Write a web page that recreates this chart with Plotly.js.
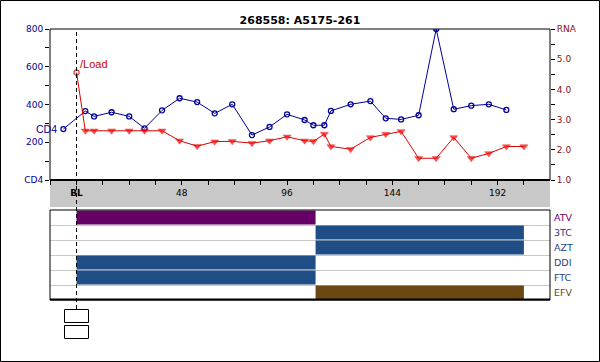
<!DOCTYPE html>
<html>
<head>
<meta charset="utf-8">
<script src="https://cdn.plot.ly/plotly-3.0.1.min.js"></script>
<style>html,body{margin:0;padding:0;background:#fff;}#chart{width:600px;height:362px;}</style>
</head>
<body>
<div id="chart"></div>
<script>
// ---- data ----
const chartTitle = "268558: A5175-261";
const cd4Weeks = [-6, 4, 8, 16, 24, 31, 39, 47, 55, 63, 71, 80, 88, 96, 104, 108, 113, 116, 125, 134, 141, 148, 156, 164, 172, 180, 188, 196];
const cd4Values = [270, 365, 337, 359, 337, 274, 369, 433, 413, 353, 401, 238, 281, 348, 318, 290, 290, 366, 401, 418, 327, 321, 343, 800, 375, 394, 401, 371];
const rnaWeeks = [0, 4, 8, 16, 24, 31, 39, 47, 55, 63, 71, 80, 88, 96, 104, 108, 113, 116, 125, 134, 141, 148, 156, 164, 172, 180, 188, 196, 204];
const rnaValues = [4.56, 2.63, 2.63, 2.63, 2.63, 2.63, 2.63, 2.30, 2.12, 2.27, 2.28, 2.22, 2.30, 2.43, 2.30, 2.28, 2.52, 2.11, 2.02, 2.41, 2.52, 2.61, 1.72, 1.72, 2.41, 1.72, 1.88, 2.11, 2.11];
const drugs = ["ATV", "3TC", "AZT", "DDI", "FTC", "EFV"];
const drugStart = [0, 109, 109, 0, 0, 109];
const drugEnd = [109, 204, 204, 109, 109, 204];
const xTickVals = [0, 48, 96, 144, 192];
const xTickText = ["<b>BL</b>", "48", "96", "144", "192"];
const cd4TickVals = [0, 200, 400, 600, 800];
const cd4TickText = ["CD4", "200", "400", "600", "800"];
const rnaTickVals = [1, 2, 3, 4, 5, 6];
const rnaTickText = ["1.0", "2.0", "3.0", "4.0", "5.0", "RNA"];

// ---- styles ----
const drugColors = ["#660066", "#1f4e86", "#1f4e86", "#1f4e86", "#1f4e86", "#6b4712"];
const drugLabelColors = ["#660066", "#1f3f80", "#1f3f80", "#1f3f80", "#1f3f80", "#6b4712"];
const NAVY = "#000099", DARKRED = "#8b1010", RED = "#e00000";
const FONT = "DejaVu Sans";

// layout geometry (pixels -> paper fractions)
const H = 362, TOP = 29, BOT = 300;
const PH = BOT - TOP;
const py = v => (BOT - v) / PH;
const px = v => (v - 50) / 500;

const mainDomain = [py(180), 1];
const drugDomain = [0, py(210)];

const rows = drugs.map((d, i) => drugs.length - 1 - i);

const traces = [
  {
    x: cd4Weeks, y: cd4Values, xaxis: "x", yaxis: "y", type: "scatter", mode: "lines+markers",
    line: {color: NAVY, width: 1},
    marker: {symbol: "circle-open", size: 5, color: NAVY, line: {width: 1.3, color: NAVY}},
    hoverinfo: "skip"
  },
  {
    x: rnaWeeks, y: rnaValues, xaxis: "x", yaxis: "y2", type: "scatter", mode: "lines+markers",
    line: {color: RED, width: 1},
    marker: {
      symbol: rnaWeeks.map((w, i) => i === 0 ? "circle-open" : "triangle-down"),
      size: rnaWeeks.map((w, i) => i === 0 ? 5 : 7),
      color: rnaWeeks.map((w, i) => i === 0 ? "#c00000" : "#ff0000"),
      line: {width: rnaWeeks.map((w, i) => i === 0 ? 1.3 : 0.5), color: rnaWeeks.map((w, i) => i === 0 ? "#c00000" : "#cc0000")}
    },
    hoverinfo: "skip"
  },
  {
    type: "bar", orientation: "h", xaxis: "x", yaxis: "y3",
    y: rows, base: drugStart, x: drugEnd.map((e, i) => e - drugStart[i]),
    width: 0.93,
    marker: {color: drugColors, line: {width: 0}},
    hoverinfo: "skip"
  }
];

const shapes = [
  // gray x-axis band
  {type: "rect", xref: "paper", yref: "paper", x0: 0, x1: 1, y0: py(207), y1: py(180), fillcolor: "#c8c8c8", line: {width: 0}, layer: "below"},
  // main plot frame
  {type: "rect", xref: "paper", yref: "paper", x0: 0, x1: 1, y0: py(180), y1: 1, line: {color: "#000", width: 1}},
  {type: "line", xref: "paper", yref: "paper", x0: 0, x1: 1, y0: py(180), y1: py(180), line: {color: "#000", width: 2}},
  // drug panel frame
  {type: "rect", xref: "paper", yref: "paper", x0: 0, x1: 1, y0: 0, y1: py(210), line: {color: "#000", width: 1}},
  {type: "line", xref: "paper", yref: "paper", x0: 0, x1: 1, y0: py(299.5), y1: py(299.5), line: {color: "#000", width: 2}},
  // baseline dashed line
  {type: "line", xref: "x", yref: "paper", x0: 0, x1: 0, y0: py(309), y1: 1, line: {color: "#000", width: 1, dash: "4px,3px"}},
  // small boxes
  {type: "rect", xref: "paper", yref: "paper", x0: px(64.5), x1: px(88.5), y0: py(322.5), y1: py(309.5), line: {color: "#000", width: 1}},
  {type: "rect", xref: "paper", yref: "paper", x0: px(64.5), x1: px(88.5), y0: py(338.5), y1: py(325.5), line: {color: "#000", width: 1}},
  // outer border
  {type: "rect", xref: "paper", yref: "paper", x0: px(0.5), x1: px(599.5), y0: py(361.5), y1: py(0.5), line: {color: "#000", width: 1}}
];

const annotations = drugs.map((d, i) => ({
  x: 1, xref: "paper", xanchor: "left", xshift: 2,
  y: rows[i], yref: "y3", yanchor: "middle",
  text: d, showarrow: false,
  font: {family: FONT, size: 9.5, color: drugLabelColors[i]}
}));
annotations.push({
  x: rnaWeeks[0], y: rnaValues[0], xref: "x", yref: "y2", xanchor: "left", yanchor: "middle",
  xshift: 1, yshift: 8, text: "/Load", showarrow: false,
  font: {family: "Liberation Sans", size: 11, color: "#d00000"}
});
annotations.push({
  x: cd4Weeks[0], y: cd4Values[0], xref: "x", yref: "y", xanchor: "right", yanchor: "middle",
  xshift: -4, yshift: 0, text: "CD4", showarrow: false,
  font: {family: "Liberation Sans", size: 10.5, color: NAVY}
});

const layout = {
  width: 600, height: H,
  margin: {l: 50, r: 50, t: TOP, b: H - BOT, pad: 0},
  paper_bgcolor: "#fff", plot_bgcolor: "rgba(0,0,0,0)",
  showlegend: false,
  font: {family: FONT, size: 9, color: "#000"},
  title: {
    text: "<b>" + chartTitle + "</b>",
    font: {family: FONT, size: 11, color: "#000"},
    x: 0.5, xanchor: "center", xref: "container",
    y: 1 - 20 / H, yanchor: "middle", yref: "container"
  },
  xaxis: {
    domain: [0, 1], anchor: "y", range: [-12.1, 215.9],
    tickmode: "array", tickvals: xTickVals, ticktext: xTickText,
    ticks: "outside", ticklen: 4, tickcolor: "#000", tickwidth: 1,
    tickfont: {family: FONT, size: 9, color: "#000"},
    minor: {tickmode: "linear", tick0: 0, dtick: 12, ticks: "outside", ticklen: 4, tickcolor: "#000", showgrid: false},
    showgrid: false, zeroline: false, showline: false, fixedrange: true
  },
  yaxis: {
    domain: mainDomain, anchor: "x", range: [0, 800],
    tickmode: "array", tickvals: cd4TickVals, ticktext: cd4TickText,
    ticks: "outside", ticklen: 4, tickcolor: "#000",
    tickfont: {family: FONT, size: 9, color: NAVY},
    minor: {tickmode: "linear", tick0: 0, dtick: 100, ticks: "outside", ticklen: 4, tickcolor: "#000", showgrid: false},
    showgrid: false, zeroline: false, showline: false, fixedrange: true
  },
  yaxis2: {
    overlaying: "y", side: "right", anchor: "x", range: [1, 6],
    tickmode: "array", tickvals: rnaTickVals, ticktext: rnaTickText,
    ticks: "outside", ticklen: 4, tickcolor: "#000",
    tickfont: {family: FONT, size: 9, color: DARKRED},
    minor: {tickmode: "linear", tick0: 1, dtick: 0.5, ticks: "outside", ticklen: 4, tickcolor: "#000", showgrid: false},
    showgrid: false, zeroline: false, showline: false, fixedrange: true
  },
  yaxis3: {
    domain: drugDomain, anchor: "x", range: [-0.5, 5.5],
    tickmode: "array", tickvals: [0.5, 1.5, 2.5, 3.5, 4.5],
    showticklabels: false, ticks: "",
    showgrid: true, gridcolor: "#c8c8c8", gridwidth: 1,
    zeroline: false, showline: false, fixedrange: true
  },
  shapes: shapes,
  annotations: annotations
};

Plotly.newPlot("chart", traces, layout, {staticPlot: true, displayModeBar: false});
</script>
</body>
</html>
